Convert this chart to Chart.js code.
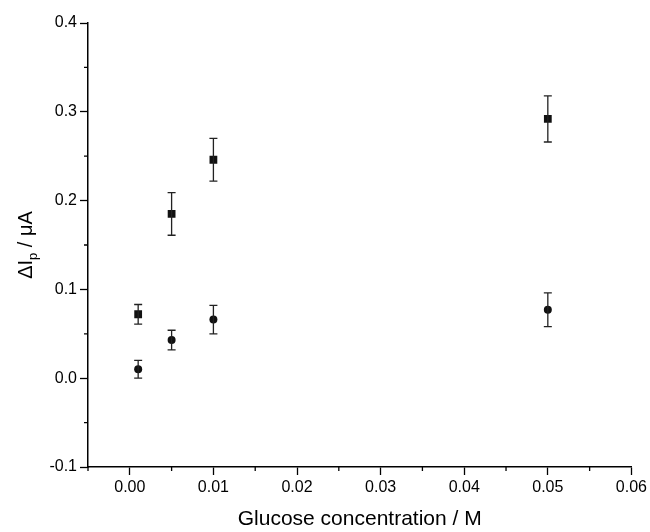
<!DOCTYPE html>
<html>
<head>
<meta charset="utf-8">
<script src="https://cdn.jsdelivr.net/npm/chart.js@4/dist/chart.umd.min.js"></script>
<style>
  html, body { margin: 0; padding: 0; background: #fff; }
  #wrap { width: 650px; height: 532px; position: relative; }
</style>
</head>
<body>
<div id="wrap"><canvas id="glucoseChart"></canvas></div>
<script>
// data
const concentrations = [0.001, 0.005, 0.01, 0.05];
const squareValues = [0.072, 0.185, 0.246, 0.292];
const squareErrors = [0.011, 0.024, 0.024, 0.026];
const circleValues = [0.010, 0.043, 0.066, 0.077];
const circleErrors = [0.010, 0.011, 0.016, 0.019];

const FONT = "'Liberation Sans', Arial, sans-serif";

function isMultiple(v, step) {
    const r = v / step;
    return Math.abs(r - Math.round(r)) < 1e-6;
}

function toPoints(values, errors) {
    return concentrations.map((x, i) => ({ x: x, y: values[i], err: errors[i] }));
}

// error bars + minor ticks + y title
const extrasPlugin = {
    id: 'extras',
    afterDatasetsDraw(chart) {
        const ctx = chart.ctx;
        const xs = chart.scales.x, ys = chart.scales.y;
        ctx.save();
        ctx.strokeStyle = '#222';
        ctx.lineWidth = 1.3;
        chart.data.datasets.forEach(ds => {
            ds.data.forEach(p => {
                const px = xs.getPixelForValue(p.x);
                const top = ys.getPixelForValue(p.y + p.err);
                const bot = ys.getPixelForValue(p.y - p.err);
                ctx.beginPath();
                ctx.moveTo(px, top); ctx.lineTo(px, bot);
                ctx.moveTo(px - 4, top); ctx.lineTo(px + 4, top);
                ctx.moveTo(px - 4, bot); ctx.lineTo(px + 4, bot);
                ctx.stroke();
            });
        });
        ctx.restore();
    },
    afterDraw(chart) {
        const ctx = chart.ctx;
        const xs = chart.scales.x, ys = chart.scales.y;
        const area = chart.chartArea;
        ctx.save();
        ctx.strokeStyle = '#000';
        ctx.lineWidth = 1.3;
        ctx.beginPath();
        xs.ticks.forEach(t => {
            if (isMultiple(t.value, 0.01)) return;
            const px = xs.getPixelForValue(t.value);
            ctx.moveTo(px, area.bottom); ctx.lineTo(px, area.bottom + 4);
        });
        ys.ticks.forEach(t => {
            if (isMultiple(t.value, 0.1)) return;
            const py = ys.getPixelForValue(t.value);
            ctx.moveTo(area.left, py); ctx.lineTo(area.left - 4, py);
        });
        ctx.stroke();

        // y axis title with subscript p
        ctx.translate(26, (area.top + area.bottom) / 2);
        ctx.rotate(-Math.PI / 2);
        ctx.fillStyle = '#000';
        ctx.textBaseline = 'middle';
        const big = '20px ' + FONT, small = '13px ' + FONT;
        const parts = [['\u0394I', big, 0], ['p', small, 7], [' / \u03bcA', big, 0]];
        let total = 0;
        parts.forEach(p => { ctx.font = p[1]; total += ctx.measureText(p[0]).width; });
        let cx = -total / 2;
        parts.forEach(p => {
            ctx.font = p[1];
            ctx.fillText(p[0], cx, p[2]);
            cx += ctx.measureText(p[0]).width;
        });
        ctx.restore();
    }
};

new Chart(document.getElementById('glucoseChart'), {
    type: 'scatter',
    data: {
        datasets: [
            {
                label: 'squares',
                data: toPoints(squareValues, squareErrors),
                pointStyle: 'rect',
                pointRadius: 5.5,
                backgroundColor: '#111',
                borderColor: '#111',
                borderWidth: 0
            },
            {
                label: 'circles',
                data: toPoints(circleValues, circleErrors),
                pointStyle: 'circle',
                pointRadius: 4,
                backgroundColor: '#111',
                borderColor: '#111',
                borderWidth: 0
            }
        ]
    },
    options: {
        responsive: true,
        maintainAspectRatio: false,
        animation: false,
        layout: { padding: { left: 0, right: 16, top: 23, bottom: 0 } },
        plugins: {
            legend: { display: false },
            tooltip: { enabled: false }
        },
        scales: {
            x: {
                type: 'linear',
                min: -0.005,
                max: 0.06,
                afterFit: s => { s.height = 65; },
                border: { display: true, color: '#000', width: 1.5 },
                grid: {
                    drawOnChartArea: false,
                    tickLength: 8,
                    tickWidth: 1.3,
                    color: c => (c.tick && isMultiple(c.tick.value, 0.01)) ? '#000' : 'rgba(0,0,0,0)'
                },
                ticks: {
                    stepSize: 0.005,
                    maxTicksLimit: 30,
                    autoSkip: false,
                    maxRotation: 0,
                    padding: 3,
                    color: '#000',
                    font: { family: FONT, size: 16 },
                    callback: v => isMultiple(v, 0.01) ? v.toFixed(2) : ''
                },
                title: {
                    display: true,
                    text: 'Glucose concentration / M',
                    color: '#000',
                    font: { family: FONT, size: 21 },
                    padding: { top: 0, bottom: 0 }
                }
            },
            y: {
                type: 'linear',
                min: -0.1,
                max: 0.4,
                afterFit: s => { s.width = 88; },
                border: { display: true, color: '#000', width: 1.5 },
                grid: {
                    drawOnChartArea: false,
                    tickLength: 8,
                    tickWidth: 1.3,
                    color: c => (c.tick && isMultiple(c.tick.value, 0.1)) ? '#000' : 'rgba(0,0,0,0)'
                },
                ticks: {
                    stepSize: 0.05,
                    maxTicksLimit: 30,
                    autoSkip: false,
                    padding: 3,
                    color: '#000',
                    font: { family: FONT, size: 16 },
                    callback: v => isMultiple(v, 0.1) ? v.toFixed(1) : ''
                }
            }
        }
    },
    plugins: [extrasPlugin]
});
</script>
</body>
</html>
